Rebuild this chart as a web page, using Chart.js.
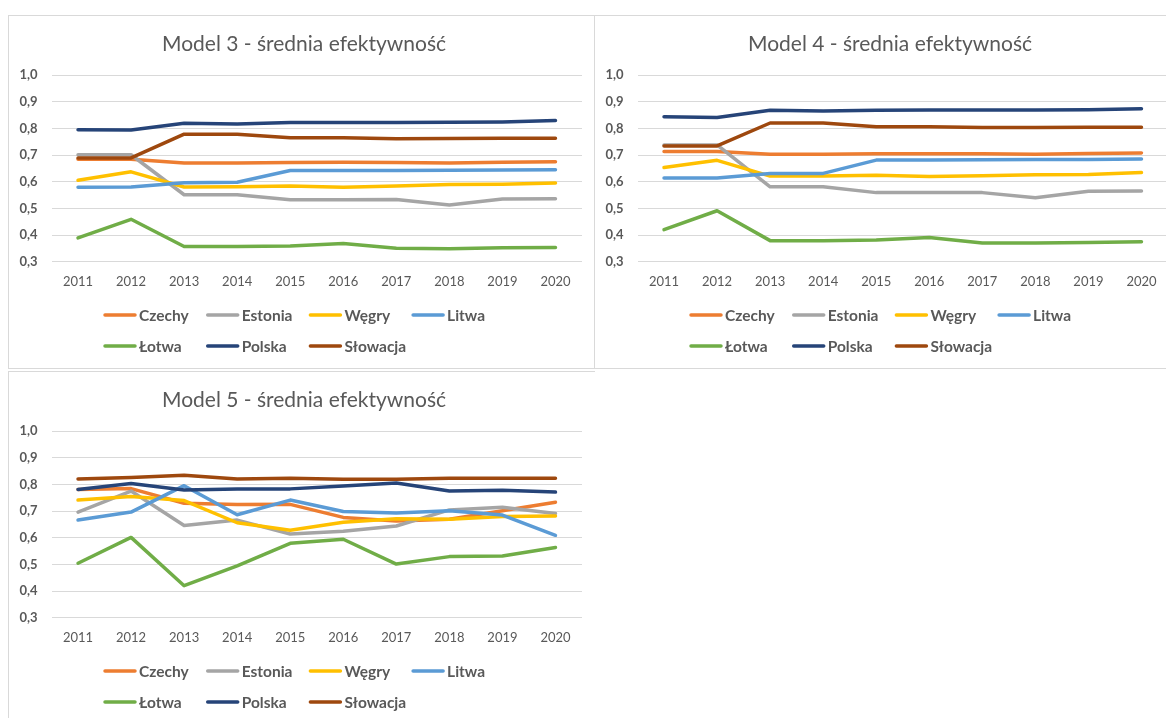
<!DOCTYPE html>
<html lang="pl">
<head>
<meta charset="UTF-8">
<title>Średnia efektywność - modele 3, 4, 5</title>
<script src="https://cdn.jsdelivr.net/npm/chart.js"></script>
<style>
    html, body{
        margin:0;
        padding:0;
        width:1166px;
        height:718px;
        overflow:hidden;
        background:#fff;
    }
    .frame{
        position:absolute;
        box-sizing:border-box;
        border:1px solid #d9d9d9;
    }
    canvas{
        position:absolute;
    }
</style>
</head>
<body>
    <div class="frame" style="left:8px;top:15px;width:587px;height:354px;"></div>
    <div class="frame" style="left:594px;top:15px;width:600px;height:354px;"></div>
    <div class="frame" style="left:8px;top:371px;width:587px;height:360px;border-right:none;border-bottom:none;"></div>

    <canvas id="m3" width="586" height="353" style="left:8px;top:15px;"></canvas>
    <canvas id="m4" width="586" height="353" style="left:594px;top:15px;"></canvas>
    <canvas id="m5" width="586" height="353" style="left:8px;top:371px;"></canvas>

<script>
    const years = ["2011","2012","2013","2014","2015","2016","2017","2018","2019","2020"];
    const countries = ["Czechy","Estonia","Węgry","Litwa","Łotwa","Polska","Słowacja"];
    const colors = ["#ED7D31","#A5A5A5","#FFC000","#5B9BD5","#70AD47","#264478","#9E480E"];
    const yTicks = [0.3, 1.0, 0.1]; // min, max, krok

    // wiersze w kolejności jak countries
    const model3 = [
        [0.684,0.684,0.670,0.670,0.672,0.673,0.672,0.670,0.673,0.675],
        [0.701,0.701,0.551,0.551,0.532,0.532,0.533,0.513,0.535,0.536],
        [0.605,0.637,0.580,0.581,0.584,0.579,0.584,0.589,0.590,0.595],
        [0.579,0.580,0.596,0.598,0.642,0.642,0.642,0.643,0.644,0.645],
        [0.389,0.459,0.357,0.357,0.359,0.368,0.350,0.349,0.352,0.353],
        [0.795,0.794,0.819,0.816,0.822,0.822,0.822,0.823,0.824,0.829],
        [0.689,0.689,0.778,0.778,0.765,0.765,0.761,0.762,0.763,0.763]
    ];
    const model4 = [
        [0.713,0.713,0.703,0.703,0.705,0.705,0.705,0.703,0.706,0.708],
        [0.738,0.738,0.581,0.581,0.559,0.559,0.559,0.540,0.564,0.565],
        [0.653,0.680,0.621,0.621,0.624,0.619,0.622,0.626,0.627,0.634],
        [0.614,0.614,0.631,0.631,0.681,0.681,0.682,0.683,0.683,0.685],
        [0.420,0.491,0.379,0.379,0.381,0.391,0.370,0.370,0.372,0.375],
        [0.843,0.841,0.868,0.865,0.868,0.869,0.869,0.869,0.870,0.873],
        [0.734,0.734,0.820,0.820,0.806,0.806,0.803,0.803,0.804,0.804]
    ];
    const model5 = [
        [0.781,0.784,0.729,0.724,0.725,0.676,0.663,0.669,0.701,0.733],
        [0.696,0.775,0.646,0.666,0.614,0.624,0.644,0.704,0.714,0.691],
        [0.741,0.754,0.739,0.656,0.628,0.658,0.671,0.669,0.679,0.681],
        [0.666,0.696,0.795,0.686,0.741,0.698,0.693,0.701,0.685,0.609],
        [0.504,0.601,0.420,0.494,0.579,0.594,0.501,0.529,0.531,0.563],
        [0.781,0.803,0.779,0.783,0.783,0.794,0.805,0.775,0.778,0.771],
        [0.820,0.826,0.834,0.820,0.823,0.819,0.819,0.823,0.823,0.823]
    ];

    const grey = "#595959";

    // tytuł i legenda (2 rzędy po 4 pozycje) rysowane w stałych miejscach
    const boxDecor = {
        id: "boxDecor",
        afterDraw(chart, args, opts){
            const ctx = chart.ctx;
            ctx.save();
            ctx.fillStyle = grey;
            ctx.textBaseline = "middle";
            ctx.textAlign = "center";
            ctx.font = "21px Lato";
            ctx.fillText(opts.title, opts.titleX, opts.titleY);

            ctx.font = "bold 15.5px Lato";
            ctx.textAlign = "left";
            chart.data.datasets.forEach((ds, i)=>{
                const x = opts.left + (i % opts.cols) * opts.colWidth;
                const y = opts.top + Math.floor(i / opts.cols) * opts.rowHeight;
                ctx.strokeStyle = ds.borderColor;
                ctx.lineWidth = 3.5;
                ctx.lineCap = "round";
                ctx.beginPath();
                ctx.moveTo(x + 2, y);
                ctx.lineTo(x + opts.lineLen - 2, y);
                ctx.stroke();
                ctx.fillText(ds.label, x + opts.lineLen + 2, y + 1);
            });
            ctx.restore();
        }
    };

    function makeChart(id, title, rows){
        const datasets = countries.map((name, i)=>({
            label: name,
            data: rows[i],
            borderColor: colors[i],
            backgroundColor: colors[i],
            borderWidth: 3.5,
            borderCapStyle: "round",
            borderJoinStyle: "round",
            pointRadius: 0,
            tension: 0,
            order: -i
        }));

        return new Chart(document.getElementById(id), {
            type: "line",
            data: { labels: years, datasets: datasets },
            options: {
                responsive: false,
                animation: false,
                layout: { padding: { left: 0, right: 12, top: 60, bottom: 76.3 } },
                scales: {
                    x: {
                        offset: true,
                        grid: { display: false, drawTicks: false, offset: true },
                        border: { display: false },
                        ticks: { color: grey, padding: 12, font: { family: "Lato", size: 13 } },
                        afterFit(scale){ scale.height = 30; }
                    },
                    y: {
                        min: yTicks[0],
                        max: yTicks[1],
                        grid: { color: "#d9d9d9", lineWidth: 1, drawTicks: false },
                        border: { display: false },
                        ticks: {
                            stepSize: yTicks[2],
                            color: grey,
                            padding: 14,
                            font: { family: "Lato", size: 13, weight: "bold" },
                            callback: v => v.toFixed(1).replace(".", ",")
                        },
                        afterFit(scale){ scale.width = 43.5; }
                    }
                },
                plugins: {
                    legend: { display: false },
                    tooltip: { enabled: false },
                    title: { display: false },
                    boxDecor: {
                        title: title, titleX: 296, titleY: 29,
                        left: 95, top: 300, cols: 4, colWidth: 102.7, rowHeight: 31, lineLen: 34
                    }
                }
            },
            plugins: [boxDecor]
        });
    }

    makeChart("m3", "Model 3 - średnia efektywność", model3);
    makeChart("m4", "Model 4 - średnia efektywność", model4);
    makeChart("m5", "Model 5 - średnia efektywność", model5);
</script>
</body>
</html>
